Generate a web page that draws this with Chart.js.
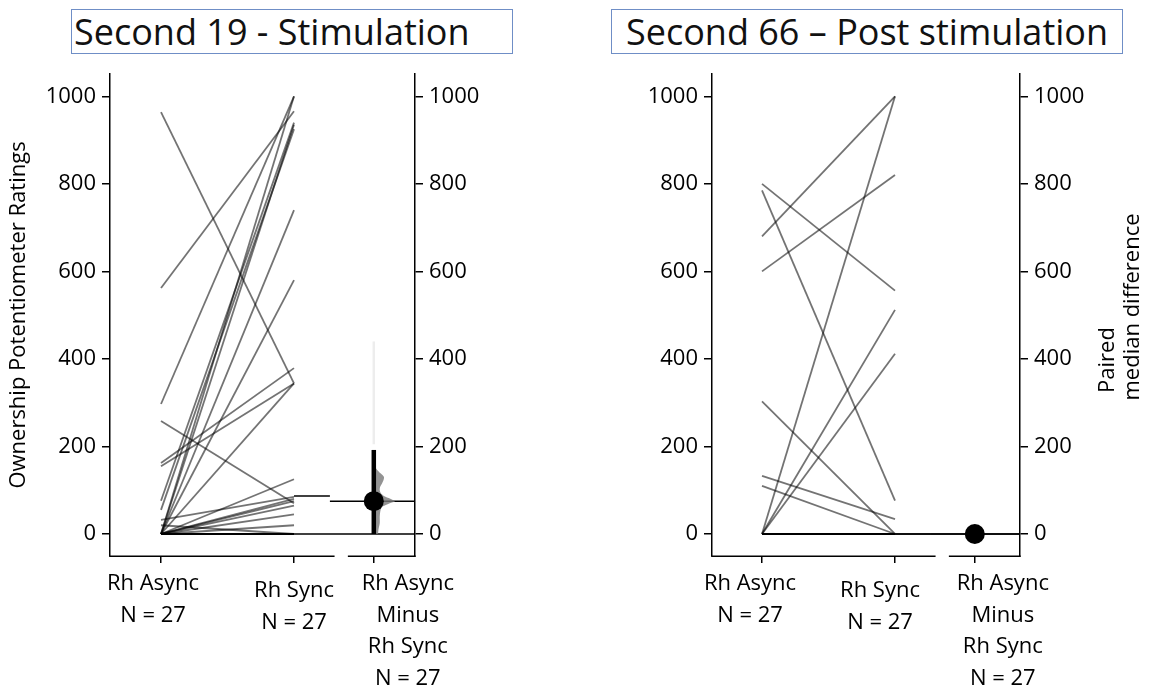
<!DOCTYPE html>
<html>
<head>
<meta charset="utf-8">
<script src="https://cdn.jsdelivr.net/npm/chart.js@4"></script>
<style>
  html, body { margin:0; padding:0; background:#fff; }
  body { width:1157px; height:691px; position:relative; overflow:hidden; font-family:"Open Sans", sans-serif; }
  .panel { position:absolute; top:0; height:691px; }
  .tbox { position:absolute; top:9px; height:45px; box-sizing:border-box; border:1.5px solid #6f8ec6;
          font-size:36px; line-height:44px; color:#111; white-space:nowrap; }
</style>
</head>
<body>
<div class="tbox" style="left:71px;width:442px;padding-left:2px;">Second 19 - Stimulation</div>
<div class="tbox" style="left:611px;width:512px;text-align:center;">Second 66 – Post stimulation</div>
<div class="panel" style="left:0;width:578px;"><canvas id="c1"></canvas></div>
<div class="panel" style="left:578px;width:579px;"><canvas id="c2"></canvas></div>
<script>
// ---------------- data ----------------
const categories = ['Rh Async', 'Rh Sync'];
const groupN = 'N = 27';
const diffLabel = ['Rh Async', 'Minus', 'Rh Sync', 'N = 27'];
const yTickValues = [0, 200, 400, 600, 800, 1000];
const yAxisTitle = 'Ownership Potentiometer Ratings';
const diffAxisTitle = ['Paired', 'median difference'];

// Second 19 - Stimulation (27 paired ratings)
const s19Async = [964, 562, 297, 258, 162, 155, 76, 55, 32, 20, 0, 0, 0, 0, 0, 0, 0, 0, 0, 0, 0, 0, 0, 0, 0, 0, 0];
const s19Sync  = [344, 966, 1000, 70, 379, 344, 940, 925, 85, 0, 1000, 935, 740, 580, 344, 125, 80, 75, 65, 45, 20, 0, 0, 0, 0, 0, 0];
const s19AsyncMedian = 0;
const s19SyncMedian = 87;
const s19DiffMedian = 75;
const s19Ci = [0, 192];
const s19ViolinValues  = [0, 10, 25, 40, 55, 62, 68, 72, 75, 79, 85, 92, 100, 108, 115, 122, 130, 136, 140, 146, 152, 160];
const s19ViolinDensity = [0.2, 0.22, 0.28, 0.28, 0.32, 0.4, 0.65, 0.85, 1.0, 0.85, 0.55, 0.35, 0.28, 0.3, 0.38, 0.45, 0.48, 0.38, 0.28, 0.16, 0.08, 0];
const s19Tail = [205, 440];

// Second 66 - Post stimulation (27 paired ratings)
const s66Async = [800, 785, 680, 600, 303, 133, 110, 0, 0, 0, 0, 0, 0, 0, 0, 0, 0, 0, 0, 0, 0, 0, 0, 0, 0, 0, 0];
const s66Sync  = [556, 76, 1000, 820, 0, 34, 0, 1000, 512, 412, 0, 0, 0, 0, 0, 0, 0, 0, 0, 0, 0, 0, 0, 0, 0, 0, 0];
const s66AsyncMedian = 0;
const s66SyncMedian = 0;
const s66DiffMedian = 0;

// ---------------- layout / style constants ----------------
const POS_ASYNC = 0, POS_SYNC = 1, POS_DIFF = 1.6;
const MEDIAN_SPLIT = 1.27;
const AXIS_BREAK = [1.305, 1.405];
const Y_MIN = -50.3, Y_MAX = 1051;
const FONT = 'Open Sans';
const PAIR_COLOR = 'rgba(0,0,0,0.55)';
const VIOLIN_HALF_WIDTH = 0.16;   // in x-axis units
const LABEL_FIRST = 34, LABEL_LINE = 31.6;

const extras = {
  id: 'extras',
  afterDraw(chart, args, o) {
    const {ctx, chartArea, scales} = chart;
    const xs = scales.x;
    ctx.save();
    ctx.strokeStyle = '#000';
    ctx.lineWidth = 1.5;
    ctx.beginPath();
    const yb = Math.round(chartArea.bottom) + 0.25;
    ctx.moveTo(chartArea.left - 0.75, yb);
    ctx.lineTo(xs.getPixelForValue(AXIS_BREAK[0]), yb);
    ctx.moveTo(xs.getPixelForValue(AXIS_BREAK[1]), yb);
    ctx.lineTo(chartArea.right + 0.75, yb);
    ctx.stroke();
    ctx.fillStyle = '#000';
    ctx.font = '22px "' + FONT + '"';
    ctx.textAlign = 'center';
    ctx.textBaseline = 'alphabetic';
    o.labels.forEach((lab, i) => {
      const px = xs.getPixelForValue(o.positions[i]) + o.xShift[i];
      lab.forEach((line, j) => {
        ctx.fillText(line, px, chartArea.bottom + LABEL_FIRST + o.offsets[i] + j * LABEL_LINE);
      });
    });
    if (o.rightTitle) {
      o.rightTitle.forEach((t, i) => {
        ctx.save();
        ctx.translate(o.rightTitlePos[i][0], o.rightTitlePos[i][1]);
        ctx.rotate(-Math.PI / 2);
        ctx.textBaseline = 'middle';
        ctx.fillText(t, 0, 0);
        ctx.restore();
      });
    }
    ctx.restore();
  }
};

function makePanel(id, cfg) {
  const datasets = [];
  // paired lines
  cfg.asyncVals.forEach((a, i) => {
    datasets.push({
      data: [{x: POS_ASYNC, y: a}, {x: POS_SYNC, y: cfg.syncVals[i]}],
      borderColor: PAIR_COLOR, borderWidth: 1.8, pointRadius: 0, order: 10
    });
  });
  // median reference lines
  datasets.push({data: [{x: POS_SYNC, y: cfg.asyncMedian}, {x: cfg.xMax, y: cfg.asyncMedian}],
    borderColor: '#000', borderWidth: 1.5, pointRadius: 0, order: 5});
  datasets.push({data: [{x: POS_SYNC, y: cfg.syncMedian}, {x: MEDIAN_SPLIT, y: cfg.syncMedian}],
    borderColor: '#000', borderWidth: 1.5, pointRadius: 0, order: 5});
  datasets.push({data: [{x: MEDIAN_SPLIT, y: cfg.diffMedian}, {x: cfg.xMax, y: cfg.diffMedian}],
    borderColor: '#000', borderWidth: 1.5, pointRadius: 0, order: 5});
  if (cfg.violinValues) {
    const pts = cfg.violinValues.map((v, i) => ({x: POS_DIFF + cfg.violinDensity[i] * VIOLIN_HALF_WIDTH, y: v}));
    const back = cfg.violinValues.slice().reverse().map(v => ({x: POS_DIFF, y: v}));
    datasets.push({data: pts.concat(back), borderColor: 'rgba(0,0,0,0)', borderWidth: 0,
      backgroundColor: 'rgba(120,120,120,0.8)', fill: 'shape', pointRadius: 0, tension: 0.3, order: 4});
    datasets.push({data: [{x: POS_DIFF, y: cfg.tail[0]}, {x: POS_DIFF, y: cfg.tail[1]}],
      borderColor: 'rgba(0,0,0,0.07)', borderWidth: 2.5, pointRadius: 0, order: 4});
  }
  if (cfg.ci) {
    datasets.push({data: [{x: POS_DIFF, y: cfg.ci[0]}, {x: POS_DIFF, y: cfg.ci[1]}],
      borderColor: '#000', borderWidth: 4.5, pointRadius: 0, order: 1});
  }
  datasets.push({data: [{x: POS_DIFF, y: cfg.diffMedian}], showLine: false,
    pointRadius: 10, pointBackgroundColor: '#000', pointBorderWidth: 0, order: 0});

  const tickFont = {family: FONT, size: 22};
  const yCommon = {
    type: 'linear', min: Y_MIN, max: Y_MAX,
    afterBuildTicks: s => { s.ticks = yTickValues.map(v => ({value: v})); },
    ticks: {color: '#000', font: tickFont, padding: 6, callback: v => String(v)},
    grid: {drawOnChartArea: false, drawTicks: true, tickLength: 8, color: '#000', lineWidth: 1.5},
    border: {display: true, color: '#000', width: 1.5}
  };
  return new Chart(document.getElementById(id), {
    type: 'line',
    data: {datasets},
    options: {
      responsive: true, maintainAspectRatio: false, animation: false, events: [],
      layout: {padding: {top: 74, left: 0, right: 0, bottom: 0}},
      plugins: {
        legend: {display: false}, tooltip: {enabled: false},
        extras: {
          labels: [[categories[0], groupN], [categories[1], groupN], diffLabel],
          positions: [POS_ASYNC, POS_SYNC, POS_DIFF],
          offsets: [0, 7, 0],
          xShift: cfg.labelShift,
          rightTitle: cfg.rightTitle, rightTitlePos: cfg.rightTitlePos
        }
      },
      scales: {
        x: {
          type: 'linear', position: 'bottom', min: cfg.xMin, max: cfg.xMax,
          afterBuildTicks: s => { s.ticks = [POS_ASYNC, POS_SYNC, POS_DIFF].map(v => ({value: v})); },
          ticks: {display: false},
          grid: {drawOnChartArea: false, drawTicks: true, tickLength: 7, color: '#000', lineWidth: 1.5},
          border: {display: false},
          afterFit: s => { s.height = 135; }
        },
        y: Object.assign({}, yCommon, {
          position: 'left',
          title: {display: !!cfg.leftTitle, text: cfg.leftTitle || '', color: '#000', font: {family: FONT, size: 22}, padding: {top: 6, bottom: 0}},
          afterFit: s => { s.width = cfg.leftW; }
        }),
        y2: Object.assign({}, yCommon, {
          position: 'right',
          afterFit: s => { s.width = cfg.rightW; }
        })
      }
    },
    plugins: [extras]
  });
}

makePanel('c1', {
  asyncVals: s19Async, syncVals: s19Sync,
  asyncMedian: s19AsyncMedian, syncMedian: s19SyncMedian, diffMedian: s19DiffMedian,
  ci: s19Ci, violinValues: s19ViolinValues, violinDensity: s19ViolinDensity, tail: s19Tail,
  xMin: -0.3835, xMax: 1.9098, leftW: 110, rightW: 163, leftTitle: yAxisTitle,
  labelShift: [-8, 0, 34]
});
makePanel('c2', {
  asyncVals: s66Async, syncVals: s66Sync,
  asyncMedian: s66AsyncMedian, syncMedian: s66SyncMedian, diffMedian: s66DiffMedian,
  xMin: -0.376, xMax: 1.9398, leftW: 134, rightW: 137,
  rightTitle: diffAxisTitle, rightTitlePos: [[530, 360], [555, 307]],
  labelShift: [-12, -15, 28]
});
</script>
</body>
</html>
